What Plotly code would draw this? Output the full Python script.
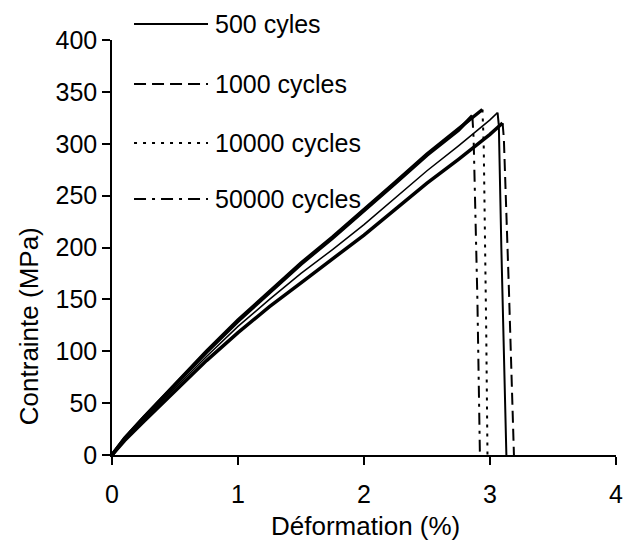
import plotly.graph_objects as go

# ---- data ----
strain_500 = [0, 0.1, 0.25, 0.5, 0.75, 1.0, 1.25, 1.5, 1.75, 2.0, 2.25, 2.5, 2.75, 3.0, 3.06, 3.07, 3.09, 3.13]
stress_500 = [0, 15, 34, 65, 95, 124, 150, 175, 198, 222, 248, 274, 298, 323, 330, 318, 200, 0]
peak_500 = 14

strain_1000 = [0, 0.1, 0.25, 0.5, 0.75, 1.0, 1.25, 1.5, 1.75, 2.0, 2.25, 2.5, 2.75, 3.0, 3.1, 3.11, 3.15, 3.19]
stress_1000 = [0, 14, 32, 62, 91, 118, 143, 166, 189, 212, 237, 262, 285, 309, 320, 305, 160, 0]
peak_1000 = 14

strain_10000 = [0, 0.1, 0.25, 0.5, 0.75, 1.0, 1.25, 1.5, 1.75, 2.0, 2.25, 2.5, 2.75, 2.94, 2.95, 2.97, 2.98]
stress_10000 = [0, 16, 36, 68, 100, 130, 158, 185, 210, 236, 263, 290, 315, 333, 300, 120, 0]
peak_10000 = 13

strain_50000 = [0, 0.1, 0.25, 0.5, 0.75, 1.0, 1.25, 1.5, 1.75, 2.0, 2.25, 2.5, 2.75, 2.86, 2.87, 2.9, 2.92]
stress_50000 = [0, 16, 36, 68, 99, 129, 157, 184, 209, 235, 262, 289, 313, 327, 305, 150, 0]
peak_50000 = 13

labels = ["500 cyles", "1000 cycles", "10000 cycles", "50000 cycles"]
dashes = ["solid", "12px,6px", "3px,6px", "12px,6px,3px,6px"]

x_ticks = [0, 1, 2, 3, 4]
y_ticks = [0, 50, 100, 150, 200, 250, 300, 350, 400]

x_title = "Déformation (%)"
y_title = "Contrainte (MPa)"

FONT = "Liberation Sans, Arial, sans-serif"
FS = 25
FS_TITLE = 26

fig = go.Figure()

series = [
    (strain_500, stress_500, peak_500, 1.5, dashes[0]),
    (strain_1000, stress_1000, peak_1000, 3.5, dashes[1]),
    (strain_10000, stress_10000, peak_10000, 3.5, dashes[2]),
    (strain_50000, stress_50000, peak_50000, 3.5, dashes[3]),
]
for xs, ys, pk, w, dash in series:
    # rising (noisy, dense) part appears solid in the reference
    fig.add_trace(go.Scatter(x=xs[:pk + 1], y=ys[:pk + 1], mode="lines",
                             line=dict(color="black", width=w), showlegend=False,
                             hoverinfo="skip"))
    # failure drop keeps the series' dash style
    fig.add_trace(go.Scatter(x=xs[pk:], y=ys[pk:], mode="lines",
                             line=dict(color="black", width=2, dash=dash), showlegend=False,
                             hoverinfo="skip"))

# manual legend (top-left, above the plot area)
leg_y = [1.0386, 0.894, 0.752, 0.617]
for lab, dash, yy in zip(labels, dashes, leg_y):
    fig.add_shape(type="line", xref="paper", yref="paper", x0=0.0437, x1=0.1905, y0=yy, y1=yy,
                  line=dict(color="black", width=2, dash=dash))
    fig.add_annotation(xref="paper", yref="paper", x=0.200, y=yy, text=lab, showarrow=False,
                       xanchor="left", yanchor="middle", font=dict(family=FONT, size=FS, color="black"))

# axis titles
fig.add_annotation(xref="paper", yref="paper", x=0.502, y=-0.172, text=x_title, showarrow=False,
                   xanchor="center", yanchor="middle", borderpad=0,
                   font=dict(family=FONT, size=FS_TITLE, color="black"))
fig.add_annotation(xref="paper", yref="paper", x=-0.163, y=0.31, text=y_title, showarrow=False,
                   textangle=-90, xanchor="center", yanchor="middle", borderpad=0,
                   font=dict(family=FONT, size=FS_TITLE, color="black"))

fig.update_layout(
    width=635, height=544,
    margin=dict(l=104, r=27, t=32, b=97, autoexpand=False),
    paper_bgcolor="white", plot_bgcolor="white",
    font=dict(family=FONT, size=FS, color="black"),
    showlegend=False,
)
fig.update_xaxes(range=[0, 4], tickvals=x_ticks, ticktext=[str(v) for v in x_ticks],
                 showgrid=False, zeroline=False, showline=True, linecolor="black", linewidth=1.5,
                 ticks="outside", ticklen=8, tickwidth=1.5, tickcolor="black", automargin=False,
                 ticklabelstandoff=8)
fig.update_yaxes(range=[0, 400], tickvals=y_ticks, ticktext=[str(v) for v in y_ticks],
                 showgrid=False, zeroline=False, showline=True, linecolor="black", linewidth=1.5,
                 ticks="outside", ticklen=8, tickwidth=1.5, tickcolor="black", automargin=False)

fig.write_html("out.html")
